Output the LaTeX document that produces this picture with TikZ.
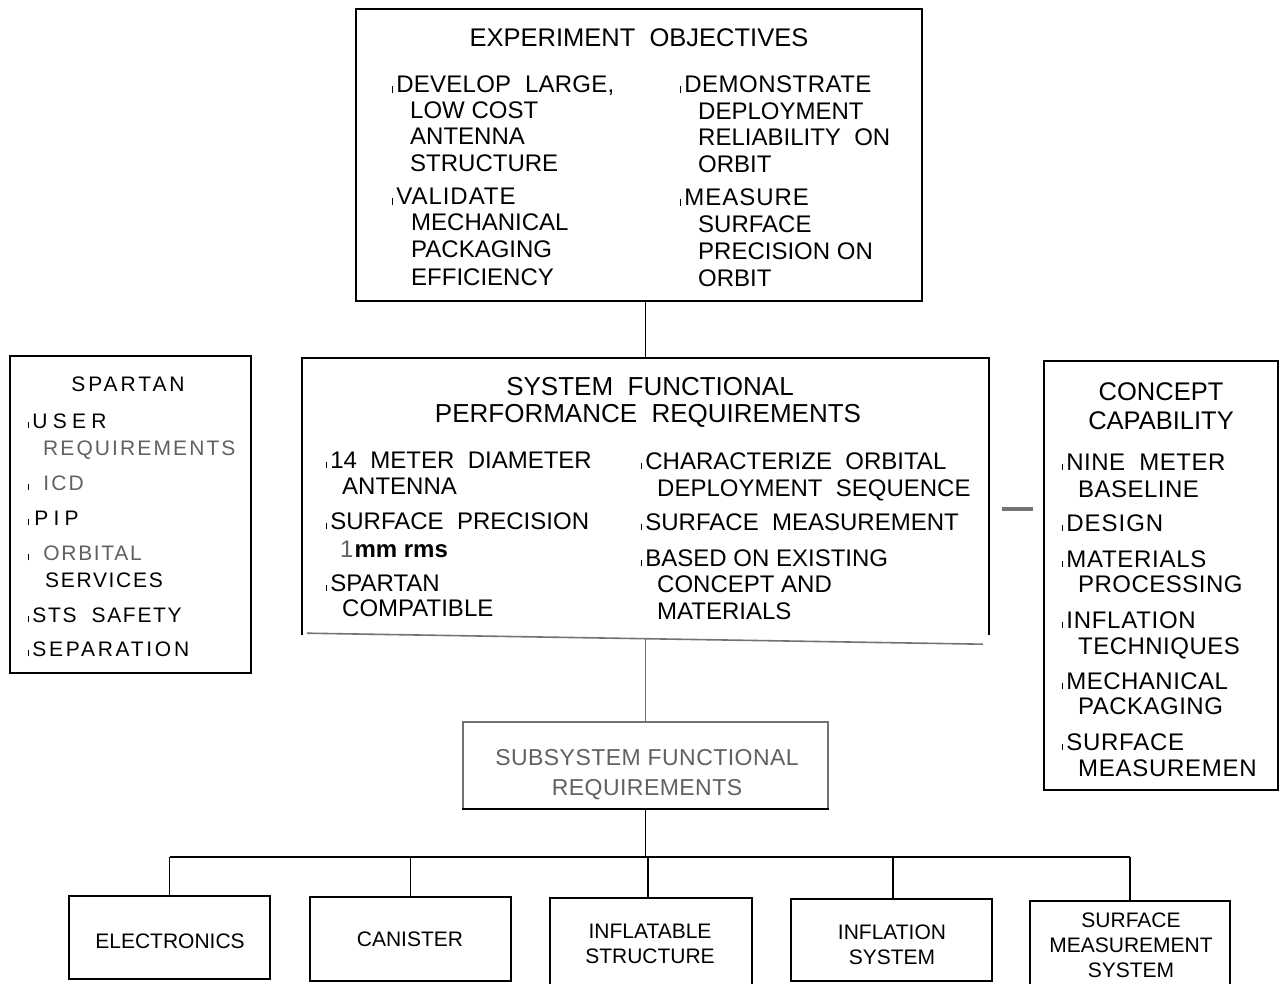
\documentclass[tikz,border=0pt]{standalone}
\usepackage{fontspec}
\setmainfont{Liberation Sans}
\newcommand\tk{\rule{1.2pt}{6.5pt}\hspace{3pt}}
\newcommand\fsz[2]{\fontsize{#1}{#2}\selectfont}
\newcommand\lsp[1]{\addfontfeature{LetterSpace=#1}}
\definecolor{lgray}{gray}{0.45}
\definecolor{tgray}{gray}{0.38}
\tikzset{
  box/.style={draw, line width=1.8pt, inner sep=0pt},
  conn/.style={line width=1.8pt},
  gline/.style={line width=1.6pt, draw=lgray},
  txt/.style={anchor=base west, inner sep=0pt, font=\fsz{24}{28}},
  ttl/.style={anchor=base, inner sep=0pt, font=\fsz{25.5}{30}},
  sptxt/.style={anchor=base west, inner sep=0pt, font=\fsz{21}{25}},
  btxt/.style={align=center, inner sep=0pt, font=\fsz{21}{25}},
}
\begin{document}
\begin{tikzpicture}[x=1pt,y=-1pt]
\useasboundingbox (0,0) rectangle (1284,984);
\fill[white] (0,0) rectangle (1284,984);
\clip (0,0) rectangle (1284,984);

% ---------- Experiment objectives ----------
\node[box, minimum width=566, minimum height=292] (obj) at (639,155) {};
\node[ttl] (objT) at (639,47) {EXPERIMENT\ \ OBJECTIVES};
\node[txt] (o1) at (392,93) {\tk{\lsp{1}DEVELOP\ \ LARGE,}};
\node[txt] (o2) at (410,119) {LOW COST};
\node[txt] (o3) at (410,145) {ANTENNA};
\node[txt] (o4) at (410,172) {STRUCTURE};
\node[txt] (o5) at (392,205) {\tk{\lsp{4}VALIDATE}};
\node[txt] (o6) at (411,231) {MECHANICAL};
\node[txt] (o7) at (411,258) {PACKAGING};
\node[txt] (o8) at (411,285) {EFFICIENCY};
\node[txt] (o9) at (680,93) {\tk{\lsp{2}DEMONSTRATE}};
\node[txt] (o10) at (698,120) {DEPLOYMENT};
\node[txt] (o11) at (698,146) {RELIABILITY\ \ ON};
\node[txt] (o12) at (698,173) {ORBIT};
\node[txt] (o13) at (680,206) {\tk{\lsp{4}MEASURE}};
\node[txt] (o14) at (698,233) {SURFACE};
\node[txt] (o15) at (698,260) {PRECISION ON};
\node[txt] (o16) at (698,286) {ORBIT};

% ---------- System functional performance requirements ----------
\node[inner sep=0pt, minimum width=687, minimum height=277] (sys) at (645.5,496.5) {};
\draw[conn] (sys.south west) -- (sys.north west) -- (sys.north east) -- (sys.south east);
\coordinate (sysbl) at ([xshift=5pt,yshift=2pt]sys.south west);
\coordinate (sysbr) at ([xshift=-6pt,yshift=-9pt]sys.south east);
\draw[gline] (sysbl) -- (sysbr);
\node[ttl, font=\fsz{26}{30}] (sT1) at (650,395) {SYSTEM\ \ FUNCTIONAL};
\node[ttl, font=\fsz{26}{30}] (sT2) at (648,422) {PERFORMANCE\ \ REQUIREMENTS};
\node[txt] (s1) at (326,468) {\tk 14\ \ METER\ \ DIAMETER};
\node[txt] (s2) at (342,494) {ANTENNA};
\node[txt] (s3) at (326,529) {\tk SURFACE\ \ PRECISION};
\node[txt] (s4) at (340,557) {{\color{tgray}1}\hspace{1pt}\textbf{mm rms}};
\node[txt] (s5) at (326,591) {\tk SPARTAN};
\node[txt] (s6) at (342,616) {COMPATIBLE};
\node[txt] (s7) at (641,469) {\tk CHARACTERIZE\ \ ORBITAL};
\node[txt] (s8) at (657,496) {DEPLOYMENT\ \ SEQUENCE};
\node[txt] (s9) at (641,530) {\tk SURFACE\ \ MEASUREMENT};
\node[txt] (s10) at (641,566) {\tk BASED ON EXISTING};
\node[txt] (s11) at (657,592) {CONCEPT AND};
\node[txt] (s12) at (657,619) {MATERIALS};

% ---------- Spartan ----------
\node[box, minimum width=241, minimum height=317] (spt) at (130.5,514.5) {};
\node[anchor=base, inner sep=0pt, font=\fsz{21}{25}] (pT) at (128,391) {\lsp{14}SPARTAN};
\node[sptxt] (p1) at (28,428) {\tk{\lsp{25}USER}};
\node[sptxt] (p2) at (43,455) {\color{tgray}\lsp{10}REQUIREMENTS};
\node[sptxt] (p3) at (28,490) {\tk\hspace{11pt}{\color{tgray}\lsp{10}ICD}};
\node[sptxt] (p4) at (28,525) {\tk\hspace{2pt}{\lsp{25}PIP}};
\node[sptxt] (p5) at (28,560) {\tk\hspace{11pt}{\color{tgray}\lsp{8}ORBITAL}};
\node[sptxt] (p6) at (45,587) {\lsp{8}SERVICES};
\node[sptxt] (p7) at (28,622) {\tk{\lsp{8}STS\ \ SAFETY}};
\node[sptxt] (p8) at (28,656) {\tk{\lsp{13}SEPARATION}};

% ---------- Concept capability ----------
\node[box, minimum width=234, minimum height=429] (cc) at (1161,575.5) {};
\node[ttl] (cT1) at (1161,400) {CONCEPT};
\node[ttl] (cT2) at (1161,429) {CAPABILITY};
\node[txt] (c1) at (1062,470) {\tk{\lsp{2}NINE\ \ METER}};
\node[txt] (c2) at (1078,497) {\lsp{2}BASELINE};
\node[txt] (c3) at (1062,531) {\tk{\lsp{4}DESIGN}};
\node[txt] (c4) at (1062,567) {\tk{\lsp{3}MATERIALS}};
\node[txt] (c5) at (1078,592) {\lsp{2}PROCESSING};
\node[txt] (c6) at (1062,628) {\tk{\lsp{3}INFLATION}};
\node[txt] (c7) at (1078,654) {\lsp{2}TECHNIQUES};
\node[txt] (c8) at (1062,689) {\tk{\lsp{2}MECHANICAL}};
\node[txt] (c9) at (1078,714) {\lsp{2}PACKAGING};
\node[txt] (c10) at (1062,750) {\tk{\lsp{3}SURFACE}};
\node[txt] (c11) at (1078,776) {\lsp{3}MEASUREMEN};

% short grey dash between system box and concept box
\coordinate (d1) at (1002,509);
\coordinate (d2) at (1033,509);
\draw[line width=4pt, draw=lgray] (d1) -- (d2);

% ---------- Subsystem functional requirements ----------
\node[inner sep=0pt, minimum width=365, minimum height=87] (sub) at (645.5,765.5) {};
\draw[gline] (sub.south west) -- (sub.north west) -- (sub.north east) -- (sub.south east);
\draw[conn] ([xshift=-1pt]sub.south west) -- ([xshift=1pt]sub.south east);
\node[anchor=base, inner sep=0pt, font=\fsz{23}{27}, text=tgray] (subT1) at (647,765) {\lsp{2}SUBSYSTEM FUNCTIONAL};
\node[anchor=base, inner sep=0pt, font=\fsz{23}{27}, text=tgray] (subT2) at (647,795) {\lsp{2}REQUIREMENTS};

% ---------- bottom boxes ----------
\node[box, minimum width=201, minimum height=83] (el) at (169.5,937.5) {};
\node[box, minimum width=201, minimum height=84] (ca) at (410.5,939) {};
\node[box, minimum width=202, minimum height=94] (is) at (651,945) {};
\node[box, minimum width=201, minimum height=82] (sy) at (891.5,940) {};
\node[box, minimum width=200, minimum height=91] (sm) at (1130,946.5) {};
\node[btxt] (elT) at (170,941) {ELECTRONICS};
\node[btxt] (caT) at (410,939) {CANISTER};
\node[btxt] (isT) at (650,944) {INFLATABLE\\STRUCTURE};
\node[btxt] (syT) at (892,945) {INFLATION\\SYSTEM};
\node[btxt] (smT) at (1131,945) {SURFACE\\MEASUREMENT\\SYSTEM};

% ---------- connectors ----------
\draw[conn] (sys.north) -- (sys.north |- obj.south);
\draw[gline] ([yshift=-3pt]sys.south) -- (sys.south |- sub.north);
\coordinate (busL) at (169.5,857);
\coordinate (busR) at (1130,857);
\draw[conn] (sub.south) -- (sub.south |- busL);
\draw[conn] (busL) -- (busR);
\draw[conn] (el.north) -- (el.north |- busL);
\draw[conn] (ca.north) -- (ca.north |- busL);
\draw[conn] ([xshift=-3pt]is.north) -- ([xshift=-3pt]is.north |- busL);
\draw[conn] ([xshift=1.5pt]sy.north) -- ([xshift=1.5pt]sy.north |- busL);
\draw[conn] (sm.north) -- (sm.north |- busL);
\end{tikzpicture}
\end{document}
